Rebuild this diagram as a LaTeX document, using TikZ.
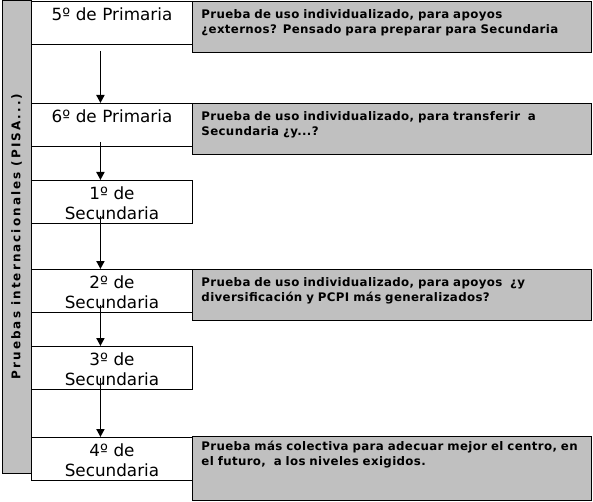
\documentclass[tikz,border=0pt]{standalone}
\usepackage{fontspec}
\setmainfont{DejaVu Sans}
\newfontfamily\notefont[LetterSpace=3]{DejaVu Sans}
\newfontfamily\barfont[LetterSpace=17]{DejaVu Sans}
\usetikzlibrary{arrows.meta, positioning}
\definecolor{boxGray}{RGB}{192,192,192}

\begin{document}
\begin{tikzpicture}[x=1pt, y=-1pt,
    course/.style={draw, fill=white, line width=0.9pt, anchor=north west,
        inner sep=0pt, text width=161pt, align=center,
        text height=19pt, text depth=24pt,
        font=\fontsize{16.8}{20}\selectfont},
    note/.style={draw, fill=boxGray, line width=0.9pt, anchor=north west,
        inner xsep=9pt, inner ysep=0pt, text width=381pt, align=left,
        text height=17pt, text depth=#1,
        font=\notefont\bfseries\fontsize{11.8}{15}\selectfont},
    next/.style={-{Triangle[length=8pt, width=8pt]}, line width=1.8pt},
    ]
    \useasboundingbox (0,0) rectangle (593,502);

    % side bar
    \node[draw, fill=boxGray, line width=0.9pt, rotate=90, inner sep=0pt,
        minimum width=473pt, minimum height=29pt,
        font=\barfont\bfseries\fontsize{12}{14}\selectfont]
        (pisa) at (16.5,236.5) {Pruebas internacionales (PISA...)};

    % gray notes
    \node[note=34pt] (n5p) at (192,1) {Prueba de uso individualizado, para apoyos\\
        ¿externos? Pensado para preparar para Secundaria};
    \node[note=34pt] (n6p) at (192,103) {Prueba de uso individualizado, para transferir\ \ a\\
        Secundaria ¿y...?};
    \node[note=34pt] (n2s) at (192,269) {Prueba de uso individualizado, para apoyos\ \ ¿y\\
        diversificación y PCPI más generalizados?};
    \node[note=50pt, text height=14pt] (n4s) at (192,436) {Prueba más colectiva para adecuar mejor el centro, en\\
        el futuro,\ \ a los niveles exigidos.};

    % courses
    \node[course] (c5p) at (31,1) {5º de Primaria};
    \node[course] (c6p) at (31,103) {6º de Primaria};
    \node[course] (c1s) at (31,180) {1º de\\Secundaria};
    \node[course] (c2s) at (31,269) {2º de\\Secundaria};
    \node[course] (c3s) at (31,346) {3º de\\Secundaria};
    \node[course] (c4s) at (31,437) {4º de\\Secundaria};

    % arrows
    \draw[next, shorten <=6pt] ([xshift=-11.5pt]c5p.south) -- ([xshift=-11.5pt]c6p.north);
    \draw[next, shorten <=-5pt] ([xshift=-11.5pt]c6p.south) -- ([xshift=-11.5pt]c1s.north);
    \draw[next, shorten <=-8pt] ([xshift=-11.5pt]c1s.south) -- ([xshift=-11.5pt]c2s.north);
    \draw[next, shorten <=-8pt] ([xshift=-11.5pt]c2s.south) -- ([xshift=-11.5pt]c3s.north);
    \draw[next, shorten <=-12pt] ([xshift=-11.5pt]c3s.south) -- ([xshift=-11.5pt]c4s.north);
\end{tikzpicture}
\end{document}
